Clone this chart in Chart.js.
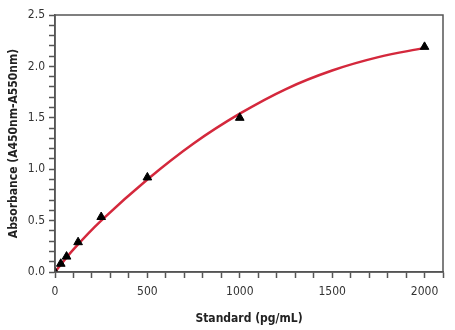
<!DOCTYPE html>
<html>
<head>
<meta charset="utf-8">
<script src="https://cdn.jsdelivr.net/npm/chart.js@4/dist/chart.umd.min.js"></script>
<style>
    html, body { margin: 0; padding: 0; background: #fff; }
</style>
</head>
<body>
<canvas id="stdCurve" width="455" height="330"></canvas>
<script>
// measured standards
const standardConc = [0, 31.25, 62.5, 125, 250, 500, 1000, 2000];
const absorbance = [0.0, 0.08, 0.15, 0.29, 0.535, 0.92, 1.50, 2.19];

// fitted curve
const curveConc = [0, 100, 250, 500, 750, 1000, 1250, 1500, 1750, 2000];
const curveAbs = [0.0, 0.22, 0.50, 0.90, 1.25, 1.54, 1.78, 1.96, 2.09, 2.18];

const xMajor = [0, 500, 1000, 1500, 2000];

const fontFamily = "'Liberation Sans Narrow', 'DejaVu Sans Condensed', 'Liberation Sans', sans-serif";
const axisColor = '#555';

const toPoints = (xs, ys) => xs.map((x, i) => ({ x: x, y: ys[i] }));

// box round the plot area
const frame = {
    id: 'frame',
    afterDraw(chart) {
        const { ctx, chartArea: a } = chart;
        ctx.save();
        ctx.strokeStyle = axisColor;
        ctx.lineWidth = 1.5;
        ctx.strokeRect(a.left, a.top, a.right - a.left, a.bottom - a.top);
        ctx.restore();
    }
};

const ctx = document.getElementById('stdCurve').getContext('2d');
new Chart(ctx, {
    type: 'scatter',
    data: {
        datasets: [
            {
                label: 'Fit',
                data: toPoints(curveConc, curveAbs),
                showLine: true,
                borderColor: '#d4283c',
                borderWidth: 2.5,
                pointRadius: 0,
                tension: 0.4,
                order: 2
            },
            {
                label: 'Standard',
                data: toPoints(standardConc, absorbance),
                pointStyle: 'triangle',
                pointRadius: 5,
                backgroundColor: '#000',
                borderColor: '#000',
                borderWidth: 1,
                order: 1
            }
        ]
    },
    options: {
        responsive: false,
        animation: false,
        layout: { padding: { top: 15, right: 12, left: 0, bottom: 0 } },
        plugins: {
            legend: { display: false },
            tooltip: { enabled: false }
        },
        scales: {
            x: {
                type: 'linear',
                min: 0,
                max: 2100,
                afterFit: s => { s.height = 58; },
                ticks: {
                    stepSize: 100,
                    autoSkip: false,
                    maxRotation: 0,
                    padding: 7,
                    color: '#333',
                    font: { family: fontFamily, size: 12 },
                    callback: v => (xMajor.includes(v) ? v : '')
                },
                grid: {
                    drawOnChartArea: false,
                    drawTicks: true,
                    tickLength: 6,
                    tickColor: axisColor,
                    tickWidth: 1.5
                },
                border: { color: axisColor, width: 1.5 },
                title: {
                    display: true,
                    text: 'Standard (pg/mL)',
                    color: '#222',
                    font: { family: fontFamily, size: 12, weight: 'bold' },
                    padding: { top: 8 }
                }
            },
            y: {
                min: 0,
                max: 2.5,
                afterFit: s => { s.width = 55; },
                ticks: {
                    stepSize: 0.1,
                    autoSkip: false,
                    padding: 4,
                    color: '#333',
                    font: { family: fontFamily, size: 12 },
                    callback: v => {
                        const r = Math.round(v * 10);
                        return r % 5 === 0 ? (r / 10).toFixed(1) : '';
                    }
                },
                grid: {
                    drawOnChartArea: false,
                    drawTicks: true,
                    tickLength: 6,
                    tickColor: axisColor,
                    tickWidth: 1.5
                },
                border: { color: axisColor, width: 1.5 },
                title: {
                    display: true,
                    text: 'Absorbance (A450nm-A550nm)',
                    color: '#222',
                    font: { family: fontFamily, size: 12, weight: 'bold' },
                    padding: { top: 7, bottom: 0 }
                }
            }
        }
    },
    plugins: [frame]
});
</script>
</body>
</html>
